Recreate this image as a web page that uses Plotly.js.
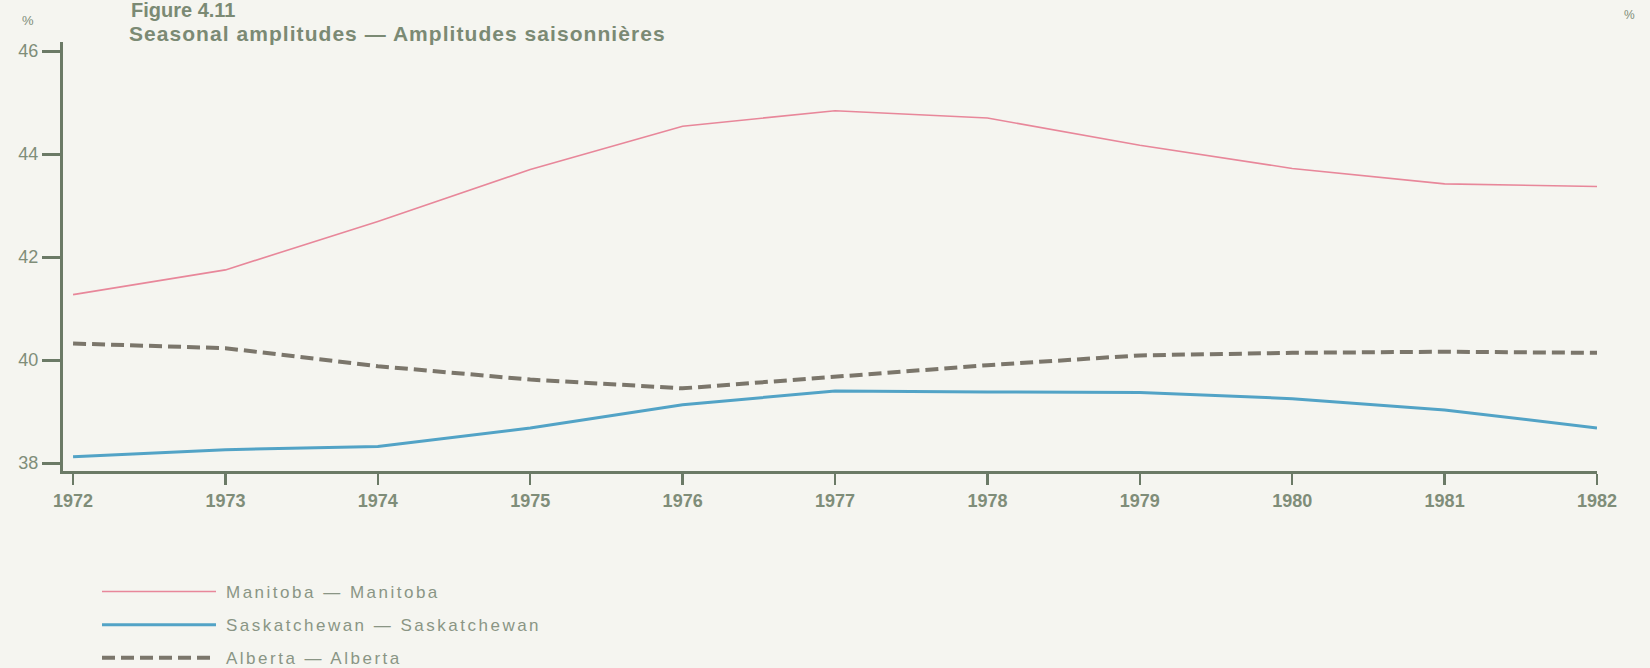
<!DOCTYPE html>
<html><head><meta charset="utf-8">
<script src="https://cdn.plot.ly/plotly-3.0.1.min.js"></script>
<style>
html,body{margin:0;padding:0;background:#f5f5f0;}
#chart{width:1650px;height:668px;}
.legendtext{letter-spacing:2.5px;transform:translateX(5px);}
.gtitle{letter-spacing:1.05px;}
</style></head><body><div id="chart"></div>
<script>
const years = [1972,1973,1974,1975,1976,1977,1978,1979,1980,1981,1982];
const manitoba = [41.27,41.75,42.69,43.70,44.54,44.84,44.70,44.17,43.72,43.42,43.37];
const saskatchewan = [38.12,38.26,38.32,38.68,39.13,39.40,39.38,39.37,39.25,39.03,38.68];
const alberta = [40.32,40.23,39.88,39.62,39.45,39.68,39.90,40.09,40.14,40.16,40.14];
const yTicks = [38,40,42,44,46];
const names = ['Manitoba — Manitoba','Saskatchewan — Saskatchewan','Alberta — Alberta'];

const axisCol = '#6b7a66';
const labelCol = '#7f8d79';
const font = 'Liberation Sans, Arial, sans-serif';
const yRange = [37.845, 46.175];

const traces = [
  {x: years, y: manitoba, name: names[0], legendgroup: 'a', mode: 'lines',
   line: {color: '#e8879a', width: 1.6}},
  {x: years, y: saskatchewan, name: names[1], legendgroup: 'b', mode: 'lines',
   line: {color: '#52a3c6', width: 3}},
  {x: years, y: alberta, name: names[2], legendgroup: 'c', mode: 'lines',
   line: {color: '#7b766b', width: 4, dash: '13px,6px'}}
];

const yBase = {
  range: yRange, tickvals: yTicks, ticktext: yTicks.map(String),
  showline: true, linecolor: axisCol, linewidth: 3,
  ticks: 'outside', ticklen: 18, tickwidth: 3, tickcolor: axisCol,
  showgrid: false, zeroline: false, fixedrange: true,
  tickfont: {family: font, size: 18, color: labelCol}
};

const layout = {
  width: 1650, height: 668,
  paper_bgcolor: '#f5f5f0', plot_bgcolor: '#f5f5f0',
  margin: {l: 63, r: 53, t: 42, b: 197, autoexpand: false},
  title: {text: 'Seasonal amplitudes — Amplitudes saisonnières',
    xref: 'container', x: 129/1650, xanchor: 'left',
    yref: 'container', y: 1 - 34/668, yanchor: 'middle',
    font: {family: font, size: 21, weight: 'bold', color: '#7b8a74'}},
  xaxis: {
    range: [1971.934, 1982], tickvals: years, ticktext: years.map(String),
    showline: true, linecolor: axisCol, linewidth: 3,
    ticks: 'outside', ticklen: 11, tickwidth: 2.5, tickcolor: axisCol,
    ticklabelstandoff: 0,
    showgrid: false, zeroline: false, fixedrange: true,
    tickfont: {family: font, size: 18, weight: 'bold', color: labelCol}
  },
  yaxis: Object.assign({}, yBase, {side: 'left'}),
  yaxis2: Object.assign({}, yBase, {side: 'right', overlaying: 'y', anchor: 'x'}),
  showlegend: true,
  legend: {
    xref: 'container', yref: 'container', x: 97/1650, y: 1 - 574/668,
    xanchor: 'left', yanchor: 'top', orientation: 'v',
    bgcolor: 'rgba(0,0,0,0)', itemwidth: 114, tracegroupgap: 8,
    font: {family: font, size: 17, color: '#8a9585'}
  },
  annotations: [
    {text: 'Figure 4.11', xref: 'paper', yref: 'paper', x: (129-63)/1534, y: (471-10)/429,
     xanchor: 'left', yanchor: 'middle', showarrow: false,
     font: {family: font, size: 20, weight: 'bold', color: '#7b8a74'}},
    {text: '%', xref: 'paper', yref: 'paper', x: (28-63)/1534, y: (471-21)/429,
     xanchor: 'center', yanchor: 'middle', showarrow: false,
     font: {family: font, size: 13, color: labelCol}},
    {text: '%', xref: 'paper', yref: 'paper', x: (1629-63)/1534, y: (471-15)/429,
     xanchor: 'center', yanchor: 'middle', showarrow: false,
     font: {family: font, size: 12, color: labelCol}}
  ]
};

Plotly.newPlot('chart', traces, layout, {displayModeBar: false, staticPlot: true});
</script></body></html>
